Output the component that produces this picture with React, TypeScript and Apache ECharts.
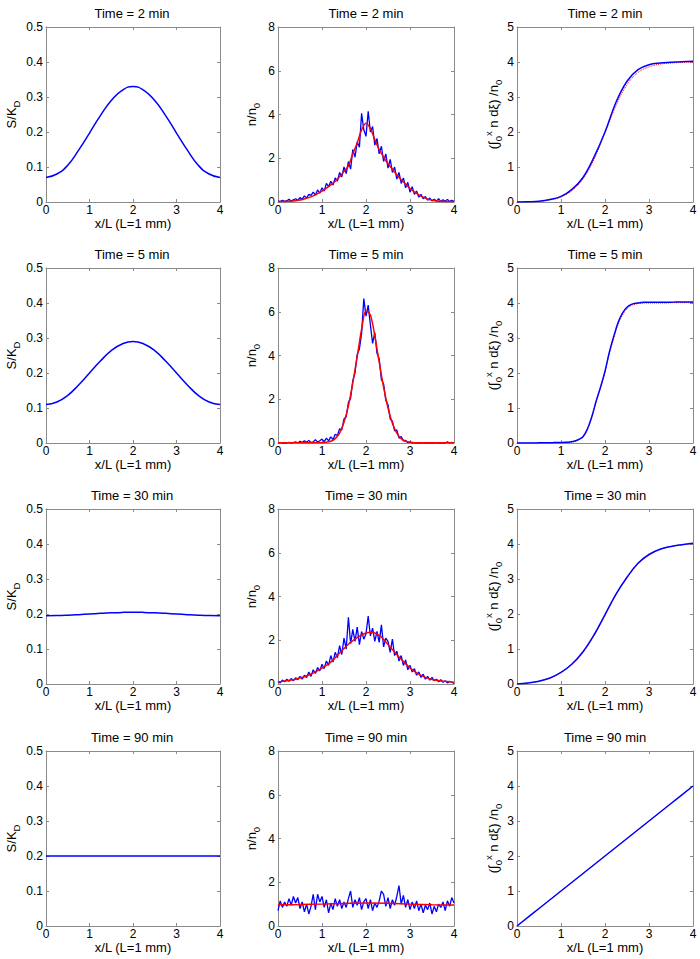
import React, { useEffect, useRef } from "react";
import * as echarts from "echarts";

// ---------- data ----------
const TITLES = ["Time = 2 min", "Time = 5 min", "Time = 30 min", "Time = 90 min"];
const X_NAME = "x/L (L=1 mm)";

// x grids (sample positions)
const X_Q = [0, 0.25, 0.5, 0.75, 1, 1.25, 1.5, 1.75, 2, 2.25, 2.5, 2.75, 3, 3.25, 3.5, 3.75, 4];
const X_T = Array.from({ length: 41 }, (_, i) => Math.round(i * 10) / 100); // 0..4 step 0.1
const X_F = Array.from({ length: 81 }, (_, i) => Math.round(i * 5) / 100); // 0..4 step 0.05
const X_H = [0, 0.5, 1, 1.5, 2, 2.5, 3, 3.5, 4];

// column 1: S/K_D (sampled at X_Q)
const S_2 = [0.07, 0.08, 0.105, 0.148, 0.197, 0.247, 0.29, 0.319, 0.33, 0.319, 0.29, 0.247, 0.197, 0.148, 0.105, 0.08, 0.07];
const S_5 = [0.11, 0.117, 0.136, 0.166, 0.2, 0.234, 0.264, 0.283, 0.29, 0.283, 0.264, 0.234, 0.2, 0.166, 0.136, 0.117, 0.11];
const S_30 = [0.195, 0.1954, 0.1965, 0.1981, 0.2, 0.2019, 0.2035, 0.2046, 0.205, 0.2046, 0.2035, 0.2019, 0.2, 0.1981, 0.1965, 0.1954, 0.195];
const S_90 = [0.2, 0.2, 0.2, 0.2, 0.2, 0.2, 0.2, 0.2, 0.2, 0.2, 0.2, 0.2, 0.2, 0.2, 0.2, 0.2, 0.2];

// column 2: n/n0 — simulated (blue, X_F) and model (red, X_T / X_H)
const N_SIM_2 = [
  0.05, 0.02, 0.08, 0.03, 0.06, 0.12, 0.04, 0.1, 0.15, 0.08,
  0.2, 0.12, 0.28, 0.18, 0.35, 0.3, 0.45, 0.32, 0.55, 0.4,
  0.65, 0.5, 0.85, 0.7, 0.95, 0.78, 1.1, 0.95, 1.35, 1.15,
  1.6, 1.3, 1.85, 1.5, 2.4, 2.05, 2.75, 2.5, 4.05, 3.3,
  3.0, 4.15, 3.2, 3.45, 2.6, 2.9, 2.2, 2.55, 1.85, 2.2,
  1.55, 1.95, 1.35, 1.6, 1.05, 1.35, 0.85, 1.1, 0.65, 0.9,
  0.45, 0.7, 0.35, 0.5, 0.22, 0.35, 0.15, 0.25, 0.08, 0.18,
  0.05, 0.12, 0.04, 0.15, 0.02, 0.1, 0.03, 0.12, 0.02, 0.08,
  0.03,
];
const N_MOD_2 = [
  0.02, 0.02, 0.03, 0.04, 0.06, 0.09, 0.14, 0.2, 0.28, 0.38,
  0.5, 0.63, 0.78, 0.95, 1.15, 1.4, 1.65, 2.2, 2.7, 3.3,
  3.6, 3.35, 2.85, 2.4, 2.05, 1.75, 1.5, 1.25, 1.02, 0.82,
  0.62, 0.46, 0.33, 0.22, 0.13, 0.08, 0.05, 0.03, 0.02, 0.02,
  0.02,
];
const N_SIM_5 = [
  0.0, 0.02, 0.0, 0.01, 0.0, 0.03, 0.0, 0.02, 0.05, 0.0,
  0.08, 0.02, 0.1, 0.03, 0.12, 0.02, 0.05, 0.15, 0.04, 0.1,
  0.18, 0.06, 0.22, 0.1, 0.28, 0.15, 0.4, 0.35, 0.65, 0.6,
  1.1, 1.2, 1.85, 2.05, 2.85, 3.2, 4.05, 4.3, 5.0, 6.6,
  5.8, 6.3, 5.4, 4.55, 5.05, 4.1, 3.85, 2.9, 2.7, 1.95,
  1.75, 1.1, 1.0, 0.55, 0.6, 0.22, 0.3, 0.1, 0.12, 0.02,
  0.05, 0.0, 0.02, 0.0, 0.01, 0.0, 0.02, 0.0, 0.0, 0.01,
  0.0, 0.0, 0.02, 0.0, 0.0, 0.01, 0.0, 0.05, 0.0, 0.03,
  0.0,
];
const N_MOD_5 = [
  0.01, 0.01, 0.01, 0.01, 0.01, 0.01, 0.01, 0.01, 0.01, 0.01,
  0.01, 0.03, 0.08, 0.2, 0.45, 0.95, 1.7, 2.75, 3.95, 5.2,
  6.05, 5.85, 4.9, 3.7, 2.55, 1.6, 0.9, 0.45, 0.2, 0.08,
  0.03, 0.01, 0.01, 0.01, 0.01, 0.01, 0.01, 0.01, 0.01, 0.01,
  0.01,
];
const N_SIM_30 = [
  0.12, 0.05, 0.18, 0.1, 0.22, 0.12, 0.25, 0.15, 0.28, 0.2,
  0.35, 0.22, 0.4, 0.3, 0.55, 0.35, 0.65, 0.48, 0.75, 0.6,
  0.9, 0.7, 1.05, 0.85, 1.3, 1.0, 1.45, 1.2, 1.75, 1.35,
  2.1, 1.6, 3.05, 1.85, 2.5, 1.95, 2.6, 1.8, 2.4, 2.05,
  2.3, 3.1, 2.2, 2.55, 1.95, 2.4, 1.9, 2.7, 1.7, 2.1,
  1.95, 1.45, 2.05, 1.3, 1.5, 1.05, 1.3, 0.85, 1.1, 0.65,
  0.85, 0.55, 0.7, 0.4, 0.55, 0.3, 0.45, 0.22, 0.35, 0.18,
  0.3, 0.15, 0.22, 0.1, 0.2, 0.08, 0.15, 0.05, 0.12, 0.08,
  0.03,
];
const N_MOD_30 = [
  0.1, 0.12, 0.15, 0.18, 0.22, 0.27, 0.33, 0.41, 0.5, 0.61,
  0.73, 0.86, 1.0, 1.2, 1.42, 1.62, 1.82, 1.98, 2.12, 2.24,
  2.33, 2.37, 2.33, 2.22, 2.05, 1.8, 1.58, 1.35, 1.13, 0.92,
  0.74, 0.58, 0.45, 0.35, 0.27, 0.21, 0.17, 0.14, 0.12, 0.1,
  0.08,
];
const N_SIM_90 = [
  0.7, 1.15, 0.85, 1.1, 0.9, 1.25, 0.95, 1.35, 1.05, 1.3,
  0.8, 1.1, 0.65, 1.0, 0.55, 0.9, 1.45, 0.75, 1.45, 1.1,
  1.35, 0.85, 1.2, 0.6, 1.05, 0.75, 1.25, 0.9, 1.2, 0.8,
  1.1, 0.85, 1.25, 1.6, 0.85, 1.2, 0.95, 1.3, 0.75, 1.1,
  1.25, 0.8, 1.2, 0.7, 1.05, 0.85, 1.15, 1.6, 1.45, 0.9,
  1.3, 0.8, 1.2, 0.95, 1.35, 1.85, 1.0, 1.4, 0.85, 1.2,
  0.75, 1.1, 0.8, 1.15, 0.7, 1.0, 0.6, 0.95, 0.75, 1.05,
  0.55, 0.9, 0.65, 1.0, 0.85, 1.1, 0.7, 1.15, 0.9, 1.3,
  1.05,
];
const N_MOD_90 = [0.97, 0.98, 1.0, 1.03, 1.05, 1.04, 1.0, 0.97, 0.96];

// column 3: cumulative integral / n0 — simulated (blue) and model (red dotted)
const C_SIM_2 = [0, 0.005, 0.02, 0.07, 0.16, 0.36, 0.7, 1.28, 2.0, 2.85, 3.45, 3.78, 3.92, 3.97, 3.99, 4.01, 4.02];
const C_MOD_2 = [0, 0.004, 0.018, 0.06, 0.14, 0.33, 0.66, 1.22, 1.98, 2.75, 3.35, 3.7, 3.86, 3.94, 3.97, 3.99, 4.0];
const C_SIM_5 = [
  0, 0, 0, 0, 0.002, 0.004, 0.006, 0.008, 0.01, 0.012,
  0.015, 0.02, 0.03, 0.05, 0.1, 0.18, 0.4, 0.75, 1.2, 1.6,
  2.05, 2.6, 3.05, 3.45, 3.72, 3.88, 3.96, 3.99, 4.01, 4.02,
  4.02, 4.02, 4.02, 4.02, 4.02, 4.02, 4.03, 4.03, 4.03, 4.03,
  4.03,
];
const C_MOD_5 = [
  0, 0, 0, 0, 0.001, 0.002, 0.003, 0.004, 0.005, 0.006,
  0.008, 0.012, 0.02, 0.04, 0.09, 0.18, 0.39, 0.74, 1.19, 1.6,
  2.03, 2.57, 3.0, 3.4, 3.66, 3.84, 3.93, 3.97, 3.99, 4.0,
  4.0, 4.0, 4.0, 4.0, 4.0, 4.01, 4.01, 4.01, 4.01, 4.01,
  4.01,
];
const C_SIM_30 = [0, 0.03, 0.08, 0.17, 0.33, 0.57, 0.92, 1.4, 1.98, 2.57, 3.05, 3.45, 3.7, 3.85, 3.93, 3.98, 4.02];
const C_MOD_30 = [0, 0.03, 0.08, 0.17, 0.33, 0.56, 0.9, 1.38, 1.96, 2.55, 3.03, 3.43, 3.69, 3.84, 3.93, 3.98, 4.01];
const C_SIM_90 = [0, 0.5, 1.0, 1.5, 2.0, 2.5, 3.0, 3.5, 4.0];
const C_MOD_90 = [0, 0.5, 1.0, 1.5, 2.0, 2.5, 3.0, 3.5, 4.0];

// ---------- layout ----------
const COL_LEFT = [44, 278, 517];
const ROW_TOP = [27, 268, 509, 751];
const W = 176;
const H = 175;
const FONT = "'Liberation Sans', Arial, sans-serif";
const AXIS_COLOR = "#8a8a8a";
const BLUE = "#0000ff";
const RED = "#ff0000";

const Y_MAX = [0.5, 8, 5];
const Y_INT = [0.1, 2, 1];
const Y_NAMES = [
  "S/K{s|D}",
  "n/n{s|0}",
  "(∫{s|0}{u|x} n dξ) /n{s|0}",
];
const Y_GAP = [25, 17, 10];

const zip = (xs: number[], ys: number[]) => ys.map((y, i) => [xs[i], y]);

function buildOption() {
  const grid: any[] = [];
  const xAxis: any[] = [];
  const yAxis: any[] = [];
  const series: any[] = [];
  const graphic: any[] = [];

  const panels: { col: number; row: number; lines: any[] }[] = [];
  const S = [S_2, S_5, S_30, S_90];
  const NS = [N_SIM_2, N_SIM_5, N_SIM_30, N_SIM_90];
  const NM = [zip(X_T, N_MOD_2), zip(X_T, N_MOD_5), zip(X_T, N_MOD_30), zip(X_H, N_MOD_90)];
  const CS = [zip(X_Q, C_SIM_2), zip(X_T, C_SIM_5), zip(X_Q, C_SIM_30), zip(X_H, C_SIM_90)];
  const CM = [zip(X_Q, C_MOD_2), zip(X_T, C_MOD_5), zip(X_Q, C_MOD_30), zip(X_H, C_MOD_90)];

  for (let r = 0; r < 4; r++) {
    panels.push({
      col: 0,
      row: r,
      lines: [{ data: zip(X_Q, S[r]), color: BLUE, width: 1.5, smooth: 0.5, z: 3 }],
    });
    panels.push({
      col: 1,
      row: r,
      lines: [
        { data: zip(X_F, NS[r]), color: BLUE, width: 1.3, smooth: false, z: 2 },
        { data: NM[r], color: RED, width: 1.5, smooth: 0.3, z: 3 },
      ],
    });
    panels.push({
      col: 2,
      row: r,
      lines: [
        { data: CM[r], color: RED, width: 1, smooth: 0.4, type: "dotted", z: 2 },
        { data: CS[r], color: BLUE, width: 1.5, smooth: 0.4, z: 3 },
      ],
    });
  }

  panels.forEach((p, g) => {
    const left = COL_LEFT[p.col];
    const top = ROW_TOP[p.row];
    grid.push({ left, top, width: W, height: H, containLabel: false });
    const baseX = {
      type: "value",
      gridIndex: g,
      min: 0,
      max: 4,
      interval: 1,
      axisLine: { show: true, onZero: false, lineStyle: { color: AXIS_COLOR, width: 1 } },
      axisTick: { show: true, inside: true, length: 3, lineStyle: { color: AXIS_COLOR } },
      splitLine: { show: false },
    };
    xAxis.push({
      ...baseX,
      position: "bottom",
      axisLabel: { show: true, margin: 2, fontSize: 12, color: "#000", fontFamily: FONT },
      name: X_NAME,
      nameLocation: "middle",
      nameGap: 3,
      nameTextStyle: { fontSize: 13, color: "#000", fontFamily: FONT },
    });
    xAxis.push({ ...baseX, position: "top", axisLabel: { show: false } });
    const baseY = {
      type: "value",
      gridIndex: g,
      min: 0,
      max: Y_MAX[p.col],
      interval: Y_INT[p.col],
      axisLine: { show: true, onZero: false, lineStyle: { color: AXIS_COLOR, width: 1 } },
      axisTick: { show: true, inside: true, length: 3, lineStyle: { color: AXIS_COLOR } },
      splitLine: { show: false },
    };
    yAxis.push({
      ...baseY,
      position: "left",
      axisLabel: { show: true, margin: 3, fontSize: 12, color: "#000", fontFamily: FONT },
      name: Y_NAMES[p.col],
      nameLocation: "middle",
      nameRotate: 90,
      nameGap: Y_GAP[p.col],
      nameTextStyle: {
        fontSize: 13,
        color: "#000",
        fontFamily: FONT,
        lineHeight: 14,
        rich: {
          s: { fontSize: 9.5, fontFamily: FONT, color: "#000", lineHeight: 20, verticalAlign: "bottom" },
          u: { fontSize: 9.5, fontFamily: FONT, color: "#000", lineHeight: 18, verticalAlign: "top" },
        },
      },
    });
    yAxis.push({ ...baseY, position: "right", axisLabel: { show: false } });

    p.lines.forEach((l) => {
      series.push({
        type: "line",
        xAxisIndex: 2 * g,
        yAxisIndex: 2 * g,
        data: l.data,
        showSymbol: false,
        symbol: "none",
        smooth: l.smooth,
        lineStyle: { color: l.color, width: l.width, type: l.type || "solid" },
        z: l.z,
      });
    });

    graphic.push({
      type: "text",
      x: left + W / 2,
      y: top - 14,
      style: {
        text: TITLES[p.row],
        fill: "#000",
        font: `13px ${FONT}`,
        align: "center",
        verticalAlign: "middle",
      },
    });
  });

  return {
    animation: false,
    backgroundColor: "#ffffff",
    grid,
    xAxis,
    yAxis,
    series,
    graphic,
  };
}

export default function App() {
  const ref = useRef<HTMLDivElement>(null);
  useEffect(() => {
    if (!ref.current) return;
    const chart = echarts.init(ref.current, undefined, { renderer: "svg" });
    chart.setOption(buildOption() as any);
    return () => chart.dispose();
  }, []);
  return (
    <div
      ref={ref}
      style={{ position: "fixed", left: 0, top: 0, width: 700, height: 959, background: "#fff" }}
    />
  );
}
